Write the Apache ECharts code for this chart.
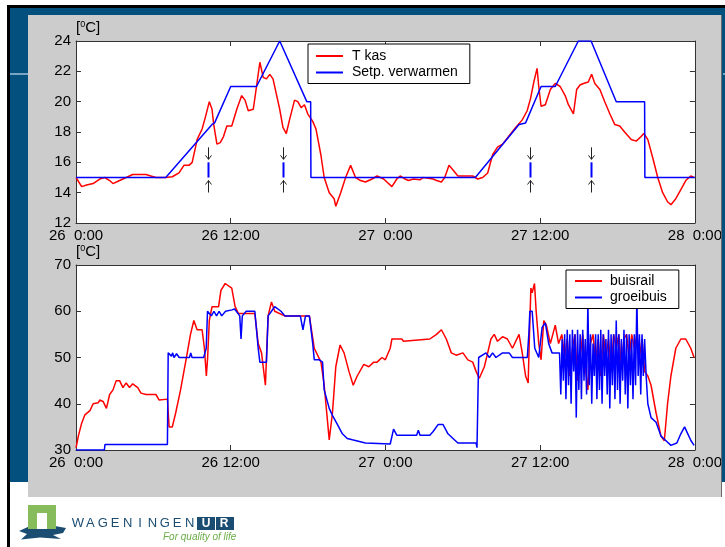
<!DOCTYPE html>
<html>
<head>
<meta charset="utf-8">
<script src="https://cdn.jsdelivr.net/npm/echarts@6.0.0/dist/echarts.min.js"></script>
<style>
  html, body { margin: 0; padding: 0; background: #fff; }
  #chart { width: 725px; height: 547px; }
</style>
</head>
<body>
<div id="chart"></div>
<script>
// time in hours since 26 0:00
var xTickLabels = ['26  0:00', '26 12:00', '27  0:00', '27 12:00', '28  0:00'];

// top: greenhouse air temperature and heating setpoint [hour, degC]
var tKas = [
  [0, 15.0], [0.05, 14.9], [0.44, 14.4], [0.82, 14.5], [1.33, 14.6], [1.84, 14.9], [2.23, 15.0], [2.61, 14.8],
  [2.87, 14.6], [3.38, 14.8], [3.89, 15.0], [4.40, 15.2], [5.43, 15.2], [5.81, 15.1], [6.20, 15.0], [6.96, 15.0],
  [7.47, 15.05], [7.99, 15.3], [8.37, 15.8], [8.76, 15.8], [9.01, 16.0], [9.27, 17.0], [9.39, 17.5], [9.78, 18.2],
  [10.04, 19.0], [10.34, 20.0], [10.55, 19.5], [10.68, 18.5], [10.93, 17.2], [11.19, 17.3], [11.44, 17.7],
  [11.70, 18.4], [12.08, 18.4], [12.47, 19.5], [12.85, 20.4], [13.11, 20.1], [13.36, 19.4], [13.75, 19.5],
  [14.00, 21.0], [14.26, 22.6], [14.52, 21.6], [14.77, 21.5], [15.03, 21.8], [15.28, 21.5], [15.54, 20.5],
  [15.80, 19.5], [16.05, 18.3], [16.31, 17.9], [16.56, 18.8], [16.95, 20.1], [17.20, 20.0], [17.46, 19.6],
  [17.72, 19.8], [17.97, 19.2], [18.36, 18.7], [18.61, 18.2], [18.99, 16.5], [19.25, 15.0], [19.64, 14.0],
  [20.02, 13.6], [20.15, 13.1], [20.53, 14.0], [20.91, 15.0], [21.30, 15.8], [21.68, 15.0], [22.07, 14.8],
  [22.45, 14.7], [22.96, 14.9], [23.35, 15.1], [23.86, 14.9], [24.50, 14.4], [24.88, 14.9], [25.14, 15.1],
  [25.52, 14.9], [25.78, 14.8], [26.17, 14.9], [26.68, 14.85], [26.93, 15.0], [27.70, 14.9], [27.96, 14.8],
  [28.34, 14.7], [28.60, 15.0], [28.93, 15.8], [29.24, 15.5], [29.62, 15.1], [30.01, 15.1], [30.77, 15.1],
  [31.16, 14.9], [31.54, 15.0], [31.93, 15.3], [32.31, 16.5], [32.69, 17.0], [33.08, 17.2], [33.46, 17.6],
  [34.10, 18.3], [34.61, 18.8], [34.99, 19.4], [35.25, 20.2], [35.51, 21.3], [35.76, 22.2], [35.89, 21.0],
  [36.07, 19.7], [36.40, 19.8], [36.79, 20.8], [37.17, 21.2], [37.55, 21.0], [37.94, 20.4], [38.19, 19.8],
  [38.58, 19.2], [38.83, 20.8], [39.09, 21.1], [39.35, 21.2], [39.73, 21.3], [39.99, 21.8], [40.24, 21.2],
  [40.63, 20.8], [41.01, 20.0], [41.40, 19.2], [41.78, 18.5], [42.17, 18.4], [42.55, 18.0], [43.06, 17.5],
  [43.45, 17.4], [43.83, 17.7], [44.04, 17.9], [44.35, 17.5], [44.73, 16.3], [45.12, 15.0], [45.50, 14.0],
  [45.88, 13.4], [46.14, 13.2], [46.52, 13.6], [46.91, 14.2], [47.29, 14.8], [47.68, 15.1], [47.94, 15.0]
];
var setpVerwarmen = [
  [0, 15], [6.96, 15], [10.55, 18.5], [10.75, 18.6], [12.0, 21], [14.0, 21], [15.8, 24], [17.9, 20],
  [18.2, 20], [18.22, 15], [30.97, 15], [34.36, 18.5], [34.87, 18.6], [36.07, 21], [37.17, 21], [38.96, 24],
  [39.95, 24], [41.9, 20], [44.1, 20], [44.12, 15], [48, 15]
];
// moments marked with arrows in the top panel
var markerHours = [10.2, 16.05, 35.25, 39.95];

// bottom: pipe temperatures [hour, degC]
var buisrail = [
  [0, 30.5], [0.05, 31.1], [0.18, 33.0], [0.44, 35.8], [0.69, 37.6], [1.08, 38.5], [1.33, 40.0], [1.72, 40.2],
  [1.84, 40.8], [2.10, 40.5], [2.36, 39.0], [2.61, 42.0], [2.87, 43.0], [3.12, 45.0], [3.38, 45.0], [3.64, 43.5],
  [3.89, 44.5], [4.15, 43.5], [4.40, 44.3], [4.79, 43.5], [5.04, 42.3], [5.43, 42.0], [6.20, 42.0], [6.45, 40.8],
  [7.09, 41.0], [7.22, 35.0], [7.47, 35.0], [7.73, 38.0], [8.11, 43.0], [8.37, 47.0], [8.63, 51.0], [8.88, 55.0],
  [9.14, 58.0], [9.39, 56.0], [9.78, 56.0], [9.96, 52.0], [10.11, 46.0], [10.21, 50.0], [10.34, 58.0],
  [10.55, 61.0], [11.06, 61.0], [11.24, 64.5], [11.57, 66.0], [12.08, 65.0], [12.34, 61.0], [12.60, 59.5],
  [13.36, 59.5], [13.87, 59.5], [14.13, 53.0], [14.39, 51.0], [14.69, 44.0], [14.90, 59.0], [15.16, 62.0],
  [15.41, 60.0], [16.18, 59.0], [16.69, 59.0], [18.10, 59.0], [18.48, 52.0], [19.00, 49.0], [19.25, 44.0],
  [19.64, 32.2], [19.89, 38.0], [20.15, 48.0], [20.48, 52.7], [20.79, 51.0], [21.17, 47.0], [21.50, 44.0],
  [21.81, 46.0], [22.32, 48.5], [22.71, 48.0], [23.09, 49.0], [23.35, 49.0], [23.73, 50.0], [23.99, 49.5],
  [24.37, 52.0], [24.50, 54.0], [25.27, 54.0], [25.40, 53.5], [27.44, 54.0], [27.96, 55.0], [28.34, 56.0],
  [28.72, 54.0], [29.11, 51.0], [29.49, 50.5], [30.01, 51.0], [30.39, 49.5], [30.77, 49.0], [31.03, 47.0],
  [31.28, 45.5], [31.67, 48.0], [31.93, 51.0], [32.18, 54.0], [32.44, 55.0], [32.69, 53.5], [33.08, 54.5],
  [33.46, 54.0], [33.85, 52.0], [34.36, 55.0], [34.61, 51.0], [34.87, 46.0], [35.07, 44.5], [35.17, 55.0],
  [35.28, 65.0], [35.38, 64.0], [35.56, 66.0], [35.69, 60.0], [35.89, 53.0], [36.07, 49.5], [36.28, 58.0],
  [36.48, 57.0], [36.79, 53.0], [37.17, 57.0], [37.43, 53.0], [37.68, 55.0], [37.9, 50.0], [38.1, 54.0],
  [38.3, 46.0], [38.5, 52.0], [38.7, 55.0], [38.9, 45.0], [39.1, 50.0], [39.3, 55.0], [39.5, 48.0],
  [39.7, 43.0], [39.9, 53.0], [40.1, 55.0], [40.3, 49.0], [40.5, 54.0], [40.7, 46.0], [40.9, 55.0],
  [41.1, 50.0], [41.3, 54.0], [41.5, 47.0], [41.7, 55.0], [41.9, 52.0], [42.1, 55.0], [42.3, 48.0],
  [42.5, 54.0], [42.7, 55.0], [42.9, 50.0], [43.1, 55.0], [43.3, 52.0], [43.5, 55.0], [43.7, 50.0],
  [43.9, 54.0], [44.1, 47.0], [44.35, 46.0], [44.60, 44.0], [44.99, 38.0], [45.37, 33.0], [45.63, 32.0],
  [45.88, 40.0], [46.14, 46.0], [46.52, 52.0], [46.91, 54.0], [47.29, 54.0], [47.68, 52.0], [47.94, 50.0]
];
var groeibuis = [
  [0, 30.0], [2.2, 30.0], [2.25, 31.2], [7.09, 31.2], [7.15, 51.0], [7.4, 50.3], [7.5, 51.0], [7.6, 50.0],
  [7.8, 50.8], [8.0, 50.0], [8.8, 50.0], [8.9, 51.0], [9.0, 50.0], [9.9, 50.0], [10.1, 52.0], [10.2, 60.0],
  [10.5, 59.0], [10.7, 60.0], [10.9, 59.0], [11.1, 60.0], [11.3, 59.0], [11.6, 60.0], [12.1, 60.3],
  [12.3, 60.5], [12.7, 59.0], [12.8, 54.0], [12.9, 59.0], [13.2, 60.0], [13.87, 60.0], [14.13, 52.0],
  [14.26, 49.0], [14.77, 49.0], [14.9, 59.0], [15.16, 60.0], [15.41, 61.0], [15.9, 60.0], [16.2, 59.0],
  [17.4, 59.0], [17.6, 56.0], [17.8, 59.0], [18.1, 59.0], [18.36, 53.0], [18.48, 49.5], [18.87, 49.5],
  [19.12, 49.0], [19.25, 43.0], [19.64, 39.0], [19.89, 37.5], [20.28, 35.5], [20.66, 33.5], [21.04, 32.5],
  [21.43, 32.2], [22.45, 31.5], [24.37, 31.3], [24.50, 31.5], [24.63, 34.5], [24.88, 33.2], [26.42, 33.2],
  [26.55, 34.3], [26.68, 33.2], [27.44, 33.2], [27.70, 34.0], [28.08, 35.5], [28.47, 35.5], [28.85, 33.5],
  [29.24, 32.5], [29.62, 31.5], [31.03, 31.5], [31.10, 30.5], [31.23, 50.0], [31.80, 51.0], [32.06, 50.0],
  [32.31, 51.0], [32.57, 50.0], [33.08, 51.0], [33.59, 51.0], [33.85, 50.0], [35.0, 50.0], [35.12, 55.0],
  [35.2, 60.0], [35.38, 60.0], [35.58, 52.0], [35.89, 50.0], [36.15, 56.5], [36.40, 57.5], [36.66, 53.0],
  [36.92, 51.0], [37.30, 51.0], [37.5, 51.0], [37.6, 42.0], [37.7, 54.0], [37.8, 45.0], [37.9, 55.0],
  [38.0, 41.0], [38.1, 56.0], [38.2, 44.0], [38.3, 55.0], [38.4, 40.0], [38.5, 56.0], [38.6, 47.0],
  [38.7, 55.0], [38.8, 37.0], [38.9, 56.0], [39.0, 43.0], [39.1, 55.0], [39.2, 41.0], [39.3, 56.0],
  [39.4, 45.0], [39.5, 54.0], [39.6, 42.0], [39.7, 62.0], [39.8, 44.0], [39.9, 55.0], [40.0, 40.0],
  [40.1, 53.0], [40.2, 46.0], [40.3, 55.0], [40.4, 41.0], [40.5, 55.0], [40.6, 43.0], [40.7, 56.0],
  [40.8, 40.0], [40.9, 55.0], [41.0, 46.0], [41.1, 54.0], [41.2, 42.0], [41.3, 56.0], [41.4, 39.0],
  [41.5, 55.0], [41.6, 44.0], [41.7, 55.0], [41.8, 41.0], [41.9, 58.0], [42.0, 43.0], [42.1, 55.0],
  [42.2, 40.0], [42.3, 54.0], [42.4, 45.0], [42.5, 56.0], [42.6, 42.0], [42.7, 55.0], [42.8, 39.0],
  [42.9, 55.0], [43.0, 44.0], [43.1, 54.0], [43.2, 41.0], [43.3, 55.0], [43.4, 44.0], [43.5, 63.0],
  [43.6, 46.0], [43.7, 55.0], [43.8, 42.0], [43.9, 55.0], [44.0, 46.0], [44.1, 54.0], [44.22, 46.0],
  [44.35, 40.0], [44.60, 37.0], [44.99, 36.0], [45.37, 33.0], [45.76, 32.0], [46.14, 31.0], [46.6, 31.5],
  [46.91, 33.5], [47.2, 35.0], [47.45, 33.5], [47.7, 32.0], [47.94, 31.0]
];

var FONT = "'Liberation Sans', Arial, Helvetica, sans-serif";
var AXIS_COLOR = '#333';

function timeAxis(gridIndex, position, withLabels) {
  return {
    type: 'value', gridIndex: gridIndex, position: position,
    min: 0, max: 48, interval: 12,
    axisLine: { show: true, onZero: false, lineStyle: { color: AXIS_COLOR, width: 1 } },
    axisTick: { show: true, inside: true, length: 5, lineStyle: { color: AXIS_COLOR } },
    axisLabel: {
      show: withLabels, margin: 5, fontSize: 15, color: '#000', fontFamily: FONT,
      showMinLabel: true, showMaxLabel: true,
      formatter: function (v) { return xTickLabels[Math.round(v / 12)]; }
    },
    splitLine: { show: false }
  };
}

function tempAxis(gridIndex, position, min, max, interval, withLabels) {
  return {
    type: 'value', gridIndex: gridIndex, position: position,
    min: min, max: max, interval: interval,
    axisLine: { show: true, onZero: false, lineStyle: { color: AXIS_COLOR, width: 1 } },
    axisTick: { show: true, inside: true, length: 5, lineStyle: { color: AXIS_COLOR } },
    axisLabel: {
      show: withLabels, margin: 5, fontSize: 15, color: '#000', fontFamily: FONT,
      showMinLabel: true, showMaxLabel: true
    },
    splitLine: { show: false }
  };
}

function lineSeries(name, data, color, axisIndex) {
  return {
    name: name, type: 'line', data: data,
    xAxisIndex: axisIndex, yAxisIndex: axisIndex,
    showSymbol: false, symbol: 'none',
    color: color,
    lineStyle: { color: color, width: 1.5 },
    animation: false, silent: true
  };
}

// blue bar between 15 and 16 degC with a small black arrow above and below
function renderMarker(params, api) {
  var top = api.coord([api.value(0), api.value(2)]);
  var bottom = api.coord([api.value(0), api.value(1)]);
  var x = Math.round(top[0]) + 0.5;
  var arrow = { stroke: '#222', lineWidth: 1, fill: null };
  return {
    type: 'group',
    children: [
      { type: 'line', shape: { x1: x, y1: top[1], x2: x, y2: bottom[1] }, style: { stroke: '#0000ff', lineWidth: 2 } },
      { type: 'line', shape: { x1: x, y1: top[1] - 15, x2: x, y2: top[1] - 3 }, style: arrow },
      { type: 'polyline', shape: { points: [[x - 3, top[1] - 7], [x, top[1] - 3], [x + 3, top[1] - 7]] }, style: arrow },
      { type: 'line', shape: { x1: x, y1: bottom[1] + 3, x2: x, y2: bottom[1] + 15 }, style: arrow },
      { type: 'polyline', shape: { points: [[x - 3, bottom[1] + 7], [x, bottom[1] + 3], [x + 3, bottom[1] + 7]] }, style: arrow }
    ]
  };
}

function legendBox(names, left, top, padding, textPad) {
  return {
    data: names, orient: 'vertical', left: left, top: top,
    padding: padding, itemGap: 0.5, itemWidth: 27, itemHeight: 2, icon: 'rect',
    borderColor: '#000', borderWidth: 1, backgroundColor: '#fff', borderRadius: 0,
    selectedMode: false,
    textStyle: { fontSize: 14, color: '#000', fontFamily: FONT, lineHeight: 16, padding: [0, 0, 0, textPad] }
  };
}

function unitLabel(x, y) {
  return {
    type: 'text', x: x, y: y, z: 5,
    style: {
      text: '{b|[}{s|0}{b|C]}', verticalAlign: 'middle', align: 'left',
      rich: {
        b: { fontSize: 15, fontFamily: FONT, fill: '#000', lineHeight: 16 },
        s: { fontSize: 9, fontFamily: FONT, fill: '#000', lineHeight: 10, verticalAlign: 'top' }
      }
    }
  };
}

var graphics = [
  { type: 'rect', z: -10, shape: { x: 7, y: 5, width: 718, height: 542 }, style: { fill: '#000' } },
  { type: 'rect', z: -10, shape: { x: 10, y: 8, width: 715, height: 474 }, style: { fill: '#03507f' } },
  { type: 'rect', z: -10, shape: { x: 10, y: 482, width: 715, height: 65 }, style: { fill: '#fff' } },
  { type: 'line', z: -10, shape: { x1: 10, y1: 74, x2: 28, y2: 74 }, style: { stroke: '#a2c2d8', lineWidth: 1.5 } },
  { type: 'rect', z: -10, shape: { x: 28, y: 15, width: 694, height: 482 }, style: { fill: '#cccccc' } },
  // right edge of the panel, drawn over the clipped last tick label
  { type: 'rect', z: 50, shape: { x: 722, y: 8, width: 3, height: 474 }, style: { fill: '#03507f' } },
  { type: 'rect', z: 50, shape: { x: 722, y: 482, width: 3, height: 15 }, style: { fill: '#fff' } },
  { type: 'line', z: 50, shape: { x1: 723, y1: 74, x2: 725, y2: 74 }, style: { stroke: '#a2c2d8', lineWidth: 1.5 } },
  { type: 'line', z: 50, shape: { x1: 721.5, y1: 15, x2: 721.5, y2: 497 }, style: { stroke: '#6a6a6a', lineWidth: 1 } },
  unitLabel(76, 28),
  unitLabel(76, 252),
  // logo
  { type: 'polygon', z: 5, shape: { points: [[19, 531], [30, 526], [55, 526], [66, 528], [63, 533], [53, 535], [61, 539], [40, 537.5], [21, 539.5], [27, 534]] }, style: { fill: '#1b4d72' } },
  { type: 'rect', z: 6, shape: { x: 28, y: 505, width: 28, height: 24 }, style: { fill: '#86bc5b' } },
  { type: 'rect', z: 6, shape: { x: 37, y: 513, width: 10, height: 16 }, style: { fill: '#fff' } },
  { type: 'rect', z: 5, shape: { x: 197, y: 517, width: 37, height: 13 }, style: { fill: '#1b4d72' } },
  { type: 'line', z: 6, shape: { x1: 215.5, y1: 517, x2: 215.5, y2: 530 }, style: { stroke: '#fff', lineWidth: 1 } },
  { type: 'text', z: 6, x: 206, y: 523.5, style: { text: 'U', fontSize: 12, fontWeight: 'bold', fontFamily: FONT, fill: '#fff', align: 'center', verticalAlign: 'middle' } },
  { type: 'text', z: 6, x: 224, y: 523.5, style: { text: 'R', fontSize: 12, fontWeight: 'bold', fontFamily: FONT, fill: '#fff', align: 'center', verticalAlign: 'middle' } },
  { type: 'text', z: 6, x: 163, y: 537, style: { text: 'For quality of life', fontSize: 10, fontStyle: 'italic', fontFamily: FONT, fill: '#6aad46', verticalAlign: 'middle' } }
];
'WAGENINGEN'.split('').forEach(function (ch, i) {
  graphics.push({
    type: 'text', z: 6, x: 78 + i * 12.4, y: 523,
    style: { text: ch, fontSize: 13, fontFamily: FONT, fill: '#1b4d72', align: 'center', verticalAlign: 'middle' }
  });
});

var chart = echarts.init(document.getElementById('chart'), null, { renderer: 'canvas' });
chart.setOption({
  backgroundColor: '#fff',
  animation: false,
  grid: [
    { left: 76, top: 41, width: 625, height: 182, show: true, backgroundColor: '#fff', borderWidth: 0 },
    { left: 76, top: 265, width: 625, height: 185, show: true, backgroundColor: '#fff', borderWidth: 0 }
  ],
  xAxis: [
    timeAxis(0, 'bottom', true),
    timeAxis(0, 'top', false),
    timeAxis(1, 'bottom', true),
    timeAxis(1, 'top', false)
  ],
  yAxis: [
    tempAxis(0, 'left', 12, 24, 2, true),
    tempAxis(0, 'right', 12, 24, 2, false),
    tempAxis(1, 'left', 30, 70, 10, true),
    tempAxis(1, 'right', 30, 70, 10, false)
  ],
  legend: [
    legendBox(['T kas', 'Setp. verwarmen'], 308, 44, [4, 12, 3, 8], 4),
    legendBox(['buisrail', 'groeibuis'], 566, 270, [3, 12, 3, 9], 3)
  ],
  graphic: graphics,
  series: [
    lineSeries('T kas', tKas, '#ff0000', 0),
    lineSeries('Setp. verwarmen', setpVerwarmen, '#0000ff', 0),
    {
      name: 'markers', type: 'custom', xAxisIndex: 0, yAxisIndex: 0,
      data: markerHours.map(function (h) { return [h, 15, 16]; }),
      encode: { x: 0, y: [1, 2] },
      renderItem: renderMarker, silent: true, animation: false, clip: false
    },
    lineSeries('buisrail', buisrail, '#ff0000', 2),
    lineSeries('groeibuis', groeibuis, '#0000ff', 2)
  ]
});
</script>
</body>
</html>
